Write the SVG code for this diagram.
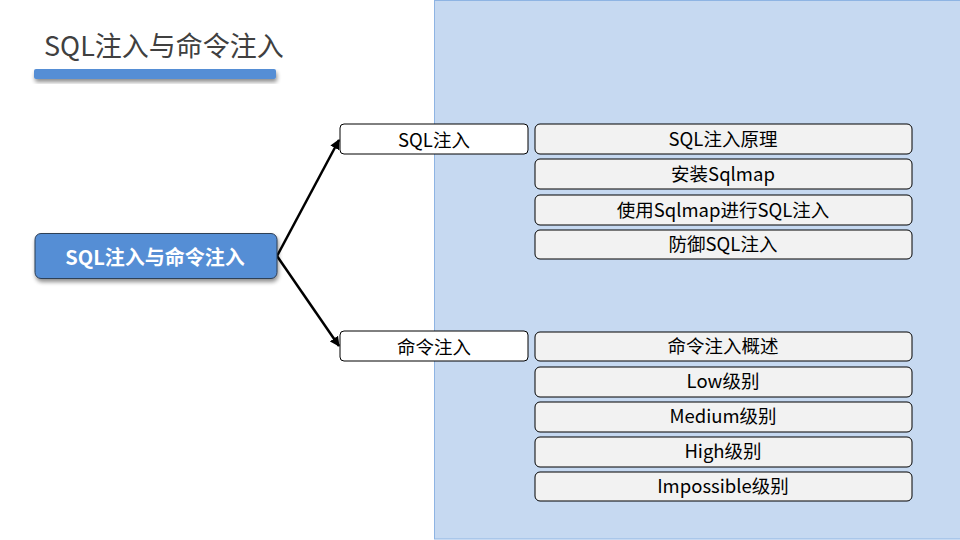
<svg xmlns="http://www.w3.org/2000/svg" width="960" height="540" viewBox="0 0 960 540">
<defs>
<style>
.t{font-family:"Noto Sans CJK SC","Noto Sans",sans-serif;font-size:18.5px;fill:#000;text-anchor:middle;dominant-baseline:central}
.l1{fill:#fff;stroke:#000;stroke-width:1}
.l2{fill:#f2f2f2;stroke:#000;stroke-width:1}
.c{stroke:#000;stroke-width:2.5;fill:none;marker-end:url(#ah)}
</style>
<marker id="ah" viewBox="0 0 10 10" refX="9" refY="5" markerWidth="4" markerHeight="4" orient="auto" markerUnits="strokeWidth">
<path d="M0,0 L10,5 L0,10 z" fill="#000"/>
</marker>
<filter id="sh" x="-10%" y="-30%" width="120%" height="180%">
<feGaussianBlur in="SourceAlpha" stdDeviation="2"/>
<feOffset dx="1" dy="3"/>
<feComponentTransfer><feFuncA type="linear" slope="0.45"/></feComponentTransfer>
<feMerge><feMergeNode/><feMergeNode in="SourceGraphic"/></feMerge>
</filter>
</defs>
<rect width="960" height="540" fill="#fff"/>
<rect id="panel" x="434.5" y="0.5" width="530" height="538.5" fill="#c6d9f1" stroke="#8eb4e3" stroke-width="1"/>
<g id="title">
<text x="44" y="56" font-family="Noto Sans CJK SC,Noto Sans,sans-serif" font-size="27" fill="#404040">SQL注入与命令注入</text>
<rect x="34" y="69" width="242" height="10" rx="2" fill="#558ed5" filter="url(#sh)"/>
</g>
<g id="connectors">
<path class="c" d="M277,256 L339,140"/>
<path class="c" d="M277,256 L339,346"/>
</g>
<g id="root">
<rect x="35" y="233.5" width="242" height="45" rx="6" fill="#558ed5" stroke="#2f3f55" stroke-width="1" filter="url(#sh)"/>
<text x="155" y="256" class="t" style="fill:#fff;font-weight:bold;font-size:20px">SQL注入与命令注入</text>
</g>
<g id="sql">
<rect class="l1" x="340" y="124" width="188" height="30" rx="4"/>
<text class="t" x="434" y="139">SQL注入</text>
</g>
<g id="cmd">
<rect class="l1" x="340" y="331" width="188" height="30" rx="4"/>
<text class="t" x="434" y="346">命令注入</text>
</g>
<g id="s1"><rect class="l2" x="535" y="124" width="377" height="30" rx="5"/><text class="t" x="723" y="138">SQL注入原理</text></g>
<g id="s2"><rect class="l2" x="535" y="159" width="377" height="30" rx="5"/><text class="t" x="723" y="173">安装Sqlmap</text></g>
<g id="s3"><rect class="l2" x="535" y="195" width="377" height="30" rx="5"/><text class="t" x="723" y="209">使用Sqlmap进行SQL注入</text></g>
<g id="s4"><rect class="l2" x="535" y="230" width="377" height="29" rx="5"/><text class="t" x="723" y="243">防御SQL注入</text></g>
<g id="c1"><rect class="l2" x="535" y="332" width="377" height="29" rx="5"/><text class="t" x="723" y="345">命令注入概述</text></g>
<g id="c2"><rect class="l2" x="535" y="367" width="377" height="30" rx="5"/><text class="t" x="723" y="380">Low级别</text></g>
<g id="c3"><rect class="l2" x="535" y="402" width="377" height="30" rx="5"/><text class="t" x="723" y="415">Medium级别</text></g>
<g id="c4"><rect class="l2" x="535" y="437" width="377" height="30" rx="5"/><text class="t" x="723" y="450">High级别</text></g>
<g id="c5"><rect class="l2" x="535" y="472" width="377" height="29" rx="5"/><text class="t" x="723" y="485">Impossible级别</text></g>
</svg>
